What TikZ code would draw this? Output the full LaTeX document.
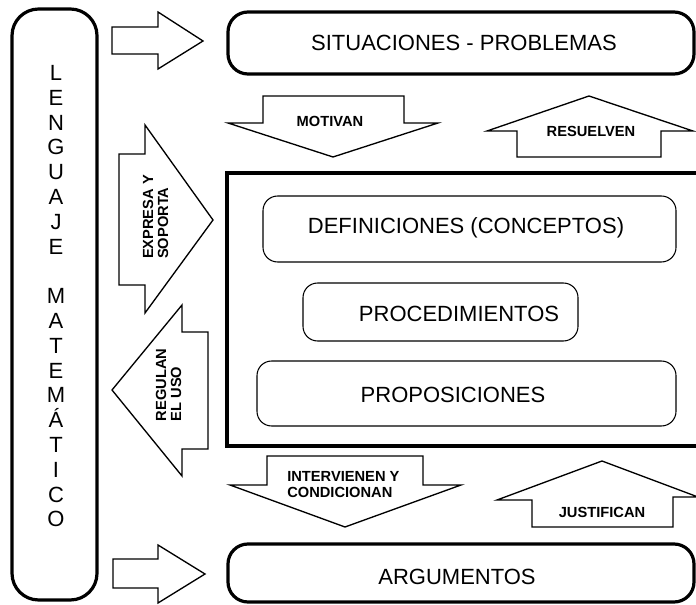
\documentclass[tikz,border=0pt]{standalone}
\usepackage{fontspec}
\setmainfont{Liberation Sans}
\begin{document}
\begin{tikzpicture}[x=0.75pt,y=-0.75pt,
  thickbox/.style={line width=2.4pt},
  thinbox/.style={line width=0.8pt, rounded corners=11pt},
  blockarrow/.style={line width=1pt, line join=miter},
  big/.style={font=\fontsize{16.5}{20}\selectfont, inner sep=0pt},
  lbl/.style={font=\bfseries\fontsize{11}{12}\selectfont, align=left, inner sep=0pt},
]
\useasboundingbox (0,0) rectangle (696,605);
\clip (0,0) rectangle (696,605);
% left tall box
\draw[thickbox, rounded corners=20pt] (12,9) rectangle (97,600);
\foreach \l/\k [count=\i] in {L/0,E/1,N/2,G/3,U/4,A/5,J/6,E/7,M/9,A/10,T/11,E/12,M/13,Á/14,T/15,I/16,C/17,O/18}
  \node[big, anchor=base] (let\i) at (56,{72.5+24.8*\k+8}) {\l};
% top and bottom boxes
\draw[thickbox, rounded corners=15pt] (228,12) rectangle (694,74);
\node[big] (sit) at (464,43) {SITUACIONES - PROBLEMAS};
\draw[thickbox, rounded corners=15pt] (228,544) rectangle (694,602);
\node[big] (arg) at (457,577) {ARGUMENTOS};
% big rectangle
\draw[thickbox] (227,173) rectangle (705,446);
\draw[thinbox] (263,196) rectangle (676,262);
\node[big] (def) at (466,228) {DEFINICIONES (CONCEPTOS)};
\draw[thinbox] (303,283) rectangle (578,341);
\node[big] (proc) at (459,314) {PROCEDIMIENTOS};
\draw[thinbox] (257,361) rectangle (676,426);
\node[big] (prop) at (453,395) {PROPOSICIONES};
% right arrows from the left box
\draw[blockarrow] (112,27) -- (158,27) -- (158,12) -- (203,41) -- (158,69) -- (158,54) -- (112,54) -- cycle;
\draw[blockarrow] (113,559) -- (158,559) -- (158,545) -- (205,574) -- (158,603) -- (158,588) -- (113,588) -- cycle;
% MOTIVAN
\draw[blockarrow] (263,96) -- (404,96) -- (404,123) -- (438,123) -- (333,157) -- (228,123) -- (263,123) -- cycle;
\node[lbl] (mot) at (330,121) {MOTIVAN};
% RESUELVEN
\draw[blockarrow] (517,157) -- (517,131) -- (487,131) -- (589,96) -- (693,131) -- (661,131) -- (661,157) -- cycle;
\node[lbl] (res) at (591,131) {RESUELVEN};
% INTERVIENEN
\draw[blockarrow] (267,456) -- (423,456) -- (423,485) -- (461,485) -- (345,527) -- (230,485) -- (267,485) -- cycle;
\node[lbl, anchor=west] (int) at (287,485) {INTERVIENEN Y\\CONDICIONAN};
% JUSTIFICAN
\draw[blockarrow] (532,527) -- (532,500) -- (497,500) -- (602,461) -- (698,497) -- (673,497) -- (673,527) -- cycle;
\node[lbl] (jus) at (602,512) {JUSTIFICAN};
% EXPRESA Y SOPORTA
\draw[blockarrow] (119,154) -- (145,154) -- (145,125) -- (213,220) -- (145,313) -- (145,285) -- (119,285) -- cycle;
\node[lbl, rotate=90, font=\bfseries\fontsize{11}{11.25}\selectfont] (exp) at (155.5,217) {EXPRESA Y\\SOPORTA};
% REGULAN EL USO
\draw[blockarrow] (208,332) -- (182,332) -- (182,305) -- (112,390) -- (182,476) -- (182,449) -- (208,449) -- cycle;
\node[lbl, rotate=90, font=\bfseries\fontsize{11}{11.25}\selectfont] (reg) at (168.5,385) {REGULAN\\EL USO};
\end{tikzpicture}
\end{document}
